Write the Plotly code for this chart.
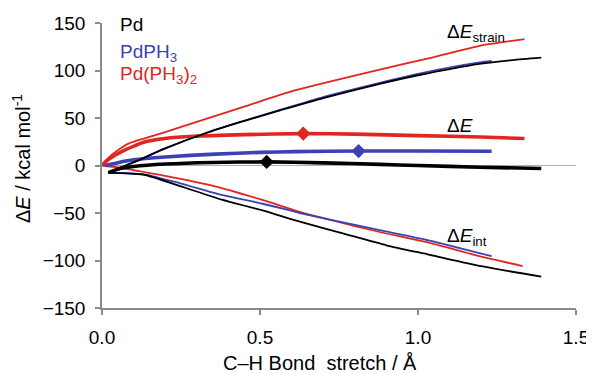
import plotly.graph_objects as go

# ---- data ----
# Pd
pd_strain_x = [0.02, 0.06, 0.105, 0.2, 0.336, 0.45, 0.563, 0.7, 0.879, 1.0, 1.195, 1.3, 1.39]
pd_strain_y = [-7.5, -2, 4, 18, 35, 47, 58, 71, 86, 95, 107, 111, 113.5]
pd_int_x = [0.02, 0.06, 0.137, 0.25, 0.379, 0.505, 0.626, 0.768, 0.9, 1.037, 1.2, 1.39]
pd_int_y = [-7.5, -8, -10, -22, -36, -47, -59, -72, -84, -94, -106, -117]
pd_de_x = [0.02, 0.06, 0.1, 0.2, 0.35, 0.521, 0.7, 0.879, 1.0, 1.195, 1.39]
pd_de_y = [-7.5, -3, -1, 1.5, 3.2, 3.8, 2.8, 1.2, 0, -1.8, -3.2]
pd_ts = (0.521, 3.8)

# PdPH3
pdph3_strain_x = [0.02, 0.06, 0.105, 0.2, 0.336, 0.45, 0.563, 0.7, 0.879, 1.0, 1.195, 1.233]
pdph3_strain_y = [-7.5, -2, 4, 18, 35, 47, 58.5, 72, 87, 96.5, 108.5, 110]
pdph3_int_x = [0.02, 0.06, 0.137, 0.25, 0.379, 0.505, 0.626, 0.72, 0.879, 1.037, 1.233]
pdph3_int_y = [-7.5, -8, -9.5, -19, -31, -40, -50, -57, -68, -79, -95.5]
pdph3_de_x = [0.01, 0.05, 0.1, 0.2, 0.358, 0.5, 0.61, 0.812, 1.0, 1.233]
pdph3_de_y = [0, 3, 6, 9, 12, 13.8, 14.6, 15.2, 15.2, 15]
pdph3_ts = (0.812, 15.2)

# Pd(PH3)2
pdph32_strain_x = [0.0, 0.02, 0.05, 0.084, 0.19, 0.295, 0.45, 0.61, 0.879, 1.037, 1.195, 1.337]
pdph32_strain_y = [0, 8, 16, 23, 34, 45.5, 62, 79, 101, 113, 126, 133]
pdph32_int_x = [0.0, 0.05, 0.1, 0.2, 0.358, 0.505, 0.626, 0.72, 0.879, 1.037, 1.2, 1.331]
pdph32_int_y = [0, -2, -5, -11, -22, -36, -48.7, -57, -70, -81.5, -96, -105.8]
pdph32_de_x = [0.0, 0.015, 0.042, 0.07, 0.105, 0.137, 0.2, 0.29, 0.45, 0.637, 0.8, 1.0, 1.2, 1.337]
pdph32_de_y = [0, 5, 11, 16, 21, 25, 28.5, 30.8, 32.5, 33.6, 33, 31.5, 30, 28.4]
pdph32_ts = (0.637, 33.6)

x_ticks = [0.0, 0.5, 1.0, 1.5]
x_tick_labels = ["0.0", "0.5", "1.0", "1.5"]
y_ticks = [-150, -100, -50, 0, 50, 100, 150]
x_title = "C–H Bond  stretch / Å"
y_title = "Δ<i>E</i> / kcal mol<sup>-1</sup>"

BLACK = "#000000"
BLUE = "#3a42b4"
RED = "#e0261e"
FONT = "Liberation Sans, Arial, sans-serif"

fig = go.Figure()

series = [
    ("Pd(PH3)2", RED, pdph32_strain_x, pdph32_strain_y, pdph32_int_x, pdph32_int_y, pdph32_de_x, pdph32_de_y, pdph32_ts),
    ("PdPH3", BLUE, pdph3_strain_x, pdph3_strain_y, pdph3_int_x, pdph3_int_y, pdph3_de_x, pdph3_de_y, pdph3_ts),
    ("Pd", BLACK, pd_strain_x, pd_strain_y, pd_int_x, pd_int_y, pd_de_x, pd_de_y, pd_ts),
]

for name, col, sx, sy, ix, iy, dx, dy, ts in series:
    fig.add_trace(go.Scatter(x=sx, y=sy, mode="lines", line=dict(color=col, width=1.8, shape="spline", smoothing=0.6),
                             showlegend=False, name=name + " strain"))
    fig.add_trace(go.Scatter(x=ix, y=iy, mode="lines", line=dict(color=col, width=1.8, shape="spline", smoothing=0.6),
                             showlegend=False, name=name + " int"))
    fig.add_trace(go.Scatter(x=dx, y=dy, mode="lines", line=dict(color=col, width=3.6, shape="spline", smoothing=0.6),
                             showlegend=False, name=name + " dE"))
    fig.add_trace(go.Scatter(x=[ts[0]], y=[ts[1]], mode="markers",
                             marker=dict(symbol="diamond", size=11, color=col),
                             showlegend=False, name=name + " TS"))

annotations = [
    dict(x=0.05, y=148, text="Pd", color=BLACK),
    dict(x=0.05, y=118.5, text="PdPH<sub>3</sub>", color=BLUE),
    dict(x=0.05, y=95, text="Pd(PH<sub>3</sub>)<sub>2</sub>", color=RED),
    dict(x=1.084, y=140, text="Δ<i>E</i><sub>strain</sub>", color=BLACK),
    dict(x=1.084, y=42, text="Δ<i>E</i>", color=BLACK),
    dict(x=1.084, y=-75, text="Δ<i>E</i><sub>int</sub>", color=BLACK),
]
for a in annotations:
    fig.add_annotation(x=a["x"], y=a["y"], text=a["text"], showarrow=False, xanchor="left", yanchor="middle",
                       font=dict(family=FONT, size=19, color=a["color"]))

# axis titles placed as in the reference
fig.add_annotation(xref="paper", yref="paper", x=0.46, y=-0.193, text=x_title, showarrow=False,
                   xanchor="center", yanchor="middle", font=dict(family=FONT, size=20, color="black"))
fig.add_annotation(xref="paper", yref="paper", x=-0.171, y=0.526, text=y_title, showarrow=False, textangle=-90,
                   xanchor="center", yanchor="middle", font=dict(family=FONT, size=20, color="black"))

# the page body adds an 8px offset, so the figure is 8px smaller than the window
fig.update_layout(
    width=586, height=365,
    margin=dict(l=94, r=18, t=15, b=65),
    paper_bgcolor="white", plot_bgcolor="white",
    font=dict(family=FONT, size=19, color="black"),
    showlegend=False,
)
fig.update_xaxes(range=[0, 1.5], tickvals=x_ticks, ticktext=x_tick_labels, showgrid=False, zeroline=False,
                 automargin=False,
                 showline=True, linecolor="#8a8a8a", linewidth=1.5, ticks="outside", ticklen=5, tickcolor="#8a8a8a",
                 tickwidth=1.5, ticklabelstandoff=6)
fig.update_yaxes(range=[-150, 150], tickvals=y_ticks, showgrid=False, zeroline=True, zerolinecolor="#b0b0b0",
                 automargin=False,
                 zerolinewidth=1, showline=True, linecolor="#8a8a8a", linewidth=1.5, ticks="outside", ticklen=5,
                 tickcolor="#8a8a8a", tickwidth=1.5, ticklabelstandoff=6)

fig.write_html("out.html")
